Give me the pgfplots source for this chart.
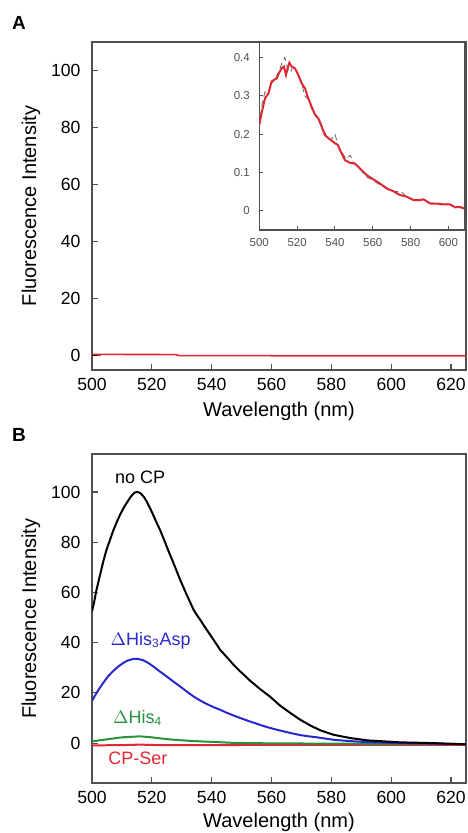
\documentclass[border=0pt]{standalone}
\usepackage{fontspec}
\setmainfont{Liberation Sans}
\usepackage{pgfplots}
\pgfplotsset{compat=1.18}
\definecolor{axgray}{RGB}{80,80,80}
\definecolor{cblue}{RGB}{40,40,205}
\definecolor{cgreen}{RGB}{40,145,60}
\definecolor{cred}{RGB}{222,40,50}
\pgfplotsset{
  mainax/.style={
    scale only axis, width=187pt, anchor=south west,
    xmin=500, xmax=625, xtick={500,520,...,620},
    axis line style={axgray, line width=0.8pt},
    tick align=inside, xtick pos=bottom, ytick pos=left,
    major tick length=3pt,
    tick style={axgray, line width=0.6pt},
    tick label style={font=\fontsize{8.8}{10}\selectfont},
    yticklabel style={xshift=-2.2pt},
    xticklabel style={yshift=-0.4pt},
    label style={font=\fontsize{10.3}{12}\selectfont},
    /pgf/number format/assume math mode=true,
    xlabel={Wavelength (nm)}, ylabel={Fluorescence Intensity},
    every axis y label/.style={at={(axis description cs:-0.163,0.5)}, rotate=90, anchor=center},
  }
}
\pgfplotstableread{
x y
500 0.224
501.2 0.254
503 0.293
504.8 0.306
506.5 0.337
508 0.342
509.2 0.345
510.5 0.360
511.8 0.371
513 0.376
514.1 0.354
515 0.372
515.9 0.386
517.1 0.376
518.9 0.371
520.6 0.354
522.4 0.332
524.2 0.319
525.9 0.293
527.7 0.271
529.5 0.250
531.2 0.241
533 0.219
534.7 0.197
537.4 0.186
540 0.176
541.5 0.172
542.7 0.158
545.3 0.132
548 0.125
550.6 0.123
553.3 0.110
556.8 0.093
560.3 0.082
563.8 0.071
567.4 0.058
570.9 0.051
574.4 0.041
577.9 0.037
581.5 0.028
585 0.028
586.8 0.030
590.3 0.019
593.8 0.019
597.4 0.017
600.9 0.017
603.5 0.009
606.2 0.010
608.5 0.006
}\redA
\pgfplotstableread{
x y
500 0.45
510 0.45
520 0.42
528 0.40
529 0.05
540 0.02
560 0.01
580 0.01
600 0.0
625 0.0
}\redAmain
\pgfplotstableread{
x y
500 0.22
501.5 0.28
503 0.31
504.5 0.30
506 0.33
508 0.34
510 0.36
512 0.385
513.5 0.40
515 0.37
516.5 0.36
518 0.38
520 0.36
522 0.34
524 0.30
526 0.29
528 0.26
530 0.25
532 0.235
534 0.21
536 0.19
538 0.185
540 0.20
542 0.165
544 0.15
546 0.135
548 0.145
550 0.125
552 0.115
554 0.105
556 0.09
558 0.085
560 0.08
563 0.07
566 0.065
569 0.055
572 0.05
575 0.05
578 0.035
581 0.03
584 0.025
587 0.03
590 0.02
593 0.02
596 0.015
599 0.02
602 0.012
605 0.01
608.5 0.005
}\grayA
\pgfplotstableread{
x y
500 52.5
500.6 55.5
501.5 61
502.6 66.5
503.7 72
504.8 76.8
505.8 80.2
507 84.3
508.2 87.8
509.4 91
510.6 93.7
511.8 96
513 98.2
514.3 99.8
515.3 100
516.2 99.5
517.2 98.2
518.2 96.4
519.3 93.8
520.4 91
521.5 88
522.7 85
523.8 81.8
524.9 78.5
526 75.2
527.2 71.8
528.3 68.5
529.4 65.2
530.5 62.2
531.6 59.2
532.8 56.1
533.9 53.2
535 51.1
536.1 49.2
538.3 45.2
540.6 41.2
542.8 37.2
545 34.3
547.3 31.2
549.5 28.6
552.8 24.9
556.2 21.5
559.6 18.4
562.9 14.9
566.3 12.0
569.6 9.3
573 7.0
576.3 5.1
580.8 3.3
586.4 2.0
592 1.1
597.5 0.7
603.1 0.3
614.3 0.0
625 -0.5
}\noCP
\pgfplotstableread{
x y
500 16.9
501.5 19.9
502.6 22.0
503.7 23.9
505.3 26.5
507 28.6
508.7 30.4
510.4 31.9
512 32.9
513.7 33.5
515.4 33.5
517.1 33.0
518.7 32.0
520.4 30.6
522.6 28.6
524.9 26.6
527.1 24.6
529.4 22.6
531.6 20.6
533.9 18.6
536.1 17.0
538.3 15.6
540.5 14.4
542.8 13.3
545 12.1
547.3 11.0
550 9.8
552.8 8.6
555.6 7.5
558.4 6.4
561.2 5.5
564 4.7
566.8 3.9
569.6 3.2
572.4 2.7
575.2 2.3
578 1.8
580.8 1.3
586.4 0.8
592 0.4
603.1 0.0
614 -0.2
625 -0.4
}\his
\pgfplotstableread{
x y
500 0.7
505 1.5
510 2.3
516 2.7
520 2.3
524.9 1.6
530 1.1
536 0.7
542 0.4
547 0.1
560 -0.1
580 -0.2
600 -0.3
625 -0.4
}\hisfour
\pgfplotstableread{
x y
500 -0.9
510 -0.8
516 -0.6
522 -0.8
540 -0.8
560 -0.7
580 -0.7
600 -0.7
625 -0.7
}\cpser
\begin{document}
\begin{tikzpicture}
% Panel A
\begin{axis}[mainax, at={(46pt,231.5pt)}, height=164pt,
  ymin=-5, ymax=110, ytick={0,20,...,100},
  every axis x label/.style={at={(axis description cs:0.5,-0.125)}, anchor=center}]
\addplot[black, line width=0.8pt, restrict x to domain=500:504] table[x=x,y=y] {\grayA};
\addplot[cred, line width=0.8pt] table[x=x,y=y] {\redAmain};
\end{axis}
% Inset
\begin{axis}[scale only axis, anchor=south west, at={(129.65pt,301.5pt)},
  width=102.6pt, height=94pt,
  xmin=500, xmax=608.5, ymin=-0.05, ymax=0.44,
  xtick={500,520,...,600}, ytick={0,0.1,0.2,0.3,0.4},
  axis background/.style={fill=white},
  axis line style={axgray, line width=0.6pt},
  tick align=inside, xtick pos=bottom, ytick pos=left,
  major tick length=2pt,
  tick style={axgray, line width=0.5pt},
  tick label style={font=\fontsize{5.75}{7}\selectfont, text=axgray},
  /pgf/number format/assume math mode=true,
  /pgf/number format/fixed,
  yticklabel style={xshift=-1.2pt},
  xticklabel style={yshift=-0.8pt}]
\addplot[gray!80!black, line width=0.4pt, densely dashed] table[x=x,y=y] {\grayA};
\addplot[cred, line width=1pt] table[x=x,y=y] {\redA};
\end{axis}
% Panel B
\begin{axis}[mainax, at={(46pt,24.85pt)}, height=164.5pt,
  ymin=-16, ymax=115, ytick={0,20,...,100},
  every axis x label/.style={at={(axis description cs:0.5,-0.118)}, anchor=center}]
\addplot[cred, line width=1pt] table[x=x,y=y] {\cpser};
\addplot[cgreen, line width=1pt] table[x=x,y=y] {\hisfour};
\addplot[cblue, line width=1pt] table[x=x,y=y] {\his};
\addplot[black, line width=1pt] table[x=x,y=y] {\noCP};
\node[font=\fontsize{9}{11}\selectfont, text=black] at (axis cs:516.1,105.8) {no CP};
\node[font=\fontsize{9}{11}\selectfont, text=cblue] at (axis cs:519.6,40.9) {$\Delta$His\textsubscript{3}Asp};
\node[font=\fontsize{9}{11}\selectfont, text=cgreen] at (axis cs:515.3,10) {$\Delta$His\textsubscript{4}};
\node[font=\fontsize{9}{11}\selectfont, text=cred] at (axis cs:515.3,-5.9) {CP-Ser};
\end{axis}
\node[font=\bfseries\fontsize{9.5}{11}\selectfont] at (9.5pt,405pt) {A};
\node[font=\bfseries\fontsize{9.5}{11}\selectfont] at (9.5pt,199pt) {B};
\pgfresetboundingbox
\path[use as bounding box] (0pt,0pt) rectangle (233.5pt,416.5pt);
\end{tikzpicture}
\end{document}
